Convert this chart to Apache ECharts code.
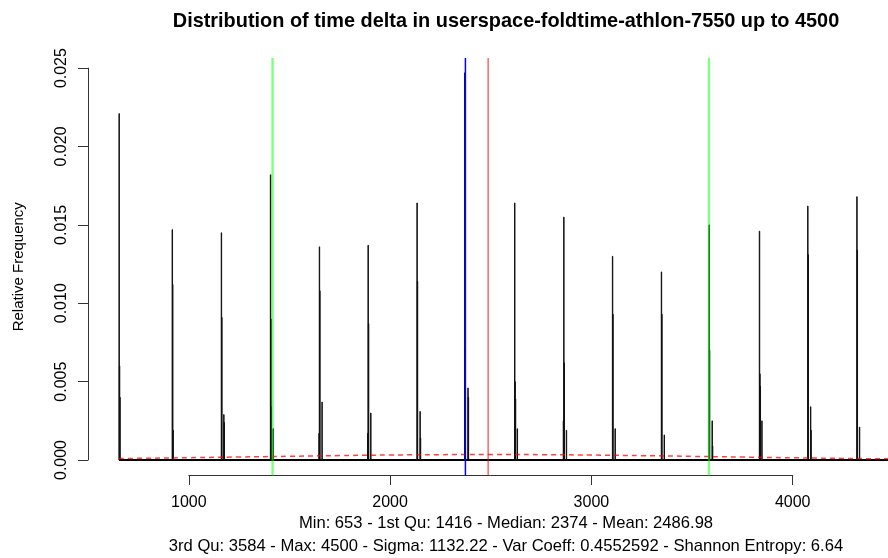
<!DOCTYPE html>
<html>
<head>
<meta charset="utf-8">
<script src="https://cdn.jsdelivr.net/npm/echarts@6/dist/echarts.min.js"></script>
<style>
html,body{margin:0;padding:0;background:#fff;}
#chart{width:888px;height:558px;}
</style>
</head>
<body>
<div id="chart"></div>
<script>
// ---- data ----
const titleText = 'Distribution of time delta in userspace-foldtime-athlon-7550 up to 4500';
const statsLine1 = 'Min: 653 - 1st Qu: 1416 - Median: 2374 - Mean: 2486.98';
const statsLine2 = '3rd Qu: 3584 - Max: 4500 - Sigma: 1132.22 - Var Coeff: 0.4552592 - Shannon Entropy: 6.64';
const yAxisName = 'Relative Frequency';

// histogram bins (start of bin) and relative frequency
const binWidth = 2;
const binStarts = [
  653, 655, 657,
  917, 919, 921,
  1161, 1163, 1173, 1175,
  1405, 1407, 1409, 1418,
  1646, 1648, 1650, 1661,
  1888, 1890, 1892, 1903,
  2133, 2135, 2148, 2150,
  2370, 2372, 2386, 2388,
  2618, 2620, 2622, 2631,
  2860, 2862, 2864, 2875,
  3104, 3106, 3117,
  3347, 3349, 3361,
  3584, 3586, 3599, 3601,
  3834, 3836, 3838, 3846,
  4074, 4076, 4088, 4090,
  4318, 4320, 4331
];
const binHeights = [
  0.0221, 0.0060, 0.0040,
  0.0147, 0.0112, 0.0019,
  0.0145, 0.0091, 0.0029, 0.0024,
  0.0182, 0.0090, 0.0034, 0.0020,
  0.0017, 0.0136, 0.0108, 0.0037,
  0.0017, 0.0137, 0.0087, 0.0030,
  0.0164, 0.0114, 0.0031, 0.0014,
  0.0247, 0.0071, 0.0046, 0.0040,
  0.0164, 0.0050, 0.0039, 0.0020,
  0.0025, 0.0155, 0.0062, 0.0019,
  0.0130, 0.0093, 0.0020,
  0.0120, 0.0093, 0.0016,
  0.0150, 0.0070, 0.0025, 0.0009,
  0.0146, 0.0055, 0.0047, 0.0025,
  0.0162, 0.0131, 0.0034, 0.0019,
  0.0168, 0.0134, 0.0021
];
const dataRange = [653, 4500];

// normal density curve (red dashed)
const densX = [653, 750, 1000, 1250, 1500, 1750, 2000, 2250, 2500, 2750, 3000, 3250, 3500, 3750, 4000, 4250, 4500];
const densY = [0.000095, 0.000108, 0.000149, 0.000194, 0.000241, 0.000285, 0.000321, 0.000344, 0.000352, 0.000343, 0.000318, 0.000281, 0.000236, 0.000189, 0.000144, 0.000105, 0.000073];

// vertical reference lines
const q1 = 1416, median = 2374, mean = 2486.98, q3 = 3584;

// axis ticks
const xTicks = [1000, 2000, 3000, 4000];
const yTicks = [0, 0.005, 0.010, 0.015, 0.020, 0.025];

// ---- plot setup ----
// visible part of the plot region (the original plot runs past the right edge)
const xMin = 499.12, xMax = 4473.3;
const yMin = -0.000986, yMax = 0.025646;

const binData = binStarts.map((s, i) => [s, binHeights[i]]);
const densData = densX.map((x, i) => [x, densY[i]]);
const vline = v => [[v, yMin], [v, yMax]];

const chart = echarts.init(document.getElementById('chart'), null, {renderer: 'canvas'});
const FONT = 'Liberation Sans, Arial, Helvetica, sans-serif';

chart.setOption({
  animation: false,
  backgroundColor: '#ffffff',
  title: [
    {
      text: titleText,
      left: 501, top: 7, textAlign: 'center',
      textStyle: {fontFamily: FONT, fontSize: 19.9, fontWeight: 'bold', color: '#000'}
    },
    {
      text: statsLine1 + '\n' + statsLine2,
      left: 501, top: 507, textAlign: 'center',
      textStyle: {fontFamily: FONT, fontSize: 16.6, fontWeight: 'normal', color: '#000', lineHeight: 23}
    }
  ],
  grid: [
    {left: 88, top: 58, width: 800, height: 417.5},
    {left: 88, top: 68.1, width: 10, height: 391.9},
    {left: 188.8, top: 465, width: 603.9, height: 10}
  ],
  xAxis: [
    {gridIndex: 0, type: 'value', min: xMin, max: xMax, show: false},
    {gridIndex: 1, type: 'value', show: false},
    {gridIndex: 2, type: 'value', min: xTicks[0], max: xTicks[xTicks.length - 1], interval: 1000,
     position: 'bottom',
     axisLine: {show: true, lineStyle: {color: '#333', width: 1}},
     axisTick: {show: true, length: 10, inside: false, lineStyle: {color: '#333'}},
     axisLabel: {show: true, margin: 20, fontFamily: FONT, fontSize: 16, color: '#000',
                 formatter: v => String(v), showMinLabel: true, showMaxLabel: true},
     splitLine: {show: false}}
  ],
  yAxis: [
    {gridIndex: 0, type: 'value', min: yMin, max: yMax,
     axisLine: {show: false}, axisTick: {show: false}, axisLabel: {show: false}, splitLine: {show: false},
     name: yAxisName, nameLocation: 'middle', nameGap: 62,
     nameTextStyle: {fontFamily: FONT, fontSize: 15, color: '#000'}},
    {gridIndex: 1, type: 'value', min: yTicks[0], max: yTicks[yTicks.length - 1], interval: 0.005,
     position: 'left',
     axisLine: {show: true, lineStyle: {color: '#333', width: 1}},
     axisTick: {show: true, length: 10, inside: false, lineStyle: {color: '#333'}},
     axisLabel: {show: true, rotate: 90, margin: 18, fontFamily: FONT, fontSize: 16, color: '#000',
                 formatter: v => v.toFixed(3), showMinLabel: true, showMaxLabel: true},
     splitLine: {show: false}},
    {gridIndex: 2, type: 'value', show: false}
  ],
  series: [
    {
      type: 'line', xAxisIndex: 0, yAxisIndex: 0, data: dataRange.map(v => [v, 0]),
      symbol: 'none', lineStyle: {color: '#000', width: 2}, silent: true, z: 2
    },
    {
      type: 'custom', xAxisIndex: 0, yAxisIndex: 0, data: binData, silent: true, z: 3,
      renderItem: function (params, api) {
        const x0 = api.value(0), h = api.value(1);
        const p0 = api.coord([x0, 0]);
        const p1 = api.coord([x0 + binWidth, h]);
        return {
          type: 'rect',
          shape: {x: p0[0], y: p1[1], width: p1[0] - p0[0], height: p0[1] - p1[1]},
          style: {fill: 'none', stroke: '#111', lineWidth: 1}
        };
      }
    },
    {
      type: 'line', xAxisIndex: 0, yAxisIndex: 0, data: densData, smooth: true,
      symbol: 'none', lineStyle: {color: 'rgba(255,0,0,0.75)', width: 1.5, type: [5, 4]}, silent: true, z: 4
    },
    {
      type: 'line', xAxisIndex: 0, yAxisIndex: 0, data: vline(q1),
      symbol: 'none', lineStyle: {color: 'rgba(0,255,0,0.5)', width: 2.4}, silent: true, z: 5
    },
    {
      type: 'line', xAxisIndex: 0, yAxisIndex: 0, data: vline(q3),
      symbol: 'none', lineStyle: {color: 'rgba(0,255,0,0.5)', width: 2.4}, silent: true, z: 5
    },
    {
      type: 'line', xAxisIndex: 0, yAxisIndex: 0, data: vline(median),
      symbol: 'none', lineStyle: {color: '#0000ff', width: 1.5}, silent: true, z: 5
    },
    {
      type: 'line', xAxisIndex: 0, yAxisIndex: 0, data: vline(mean),
      symbol: 'none', lineStyle: {color: 'rgba(255,0,0,0.6)', width: 1.5}, silent: true, z: 5
    }
  ]
});
</script>
</body>
</html>
